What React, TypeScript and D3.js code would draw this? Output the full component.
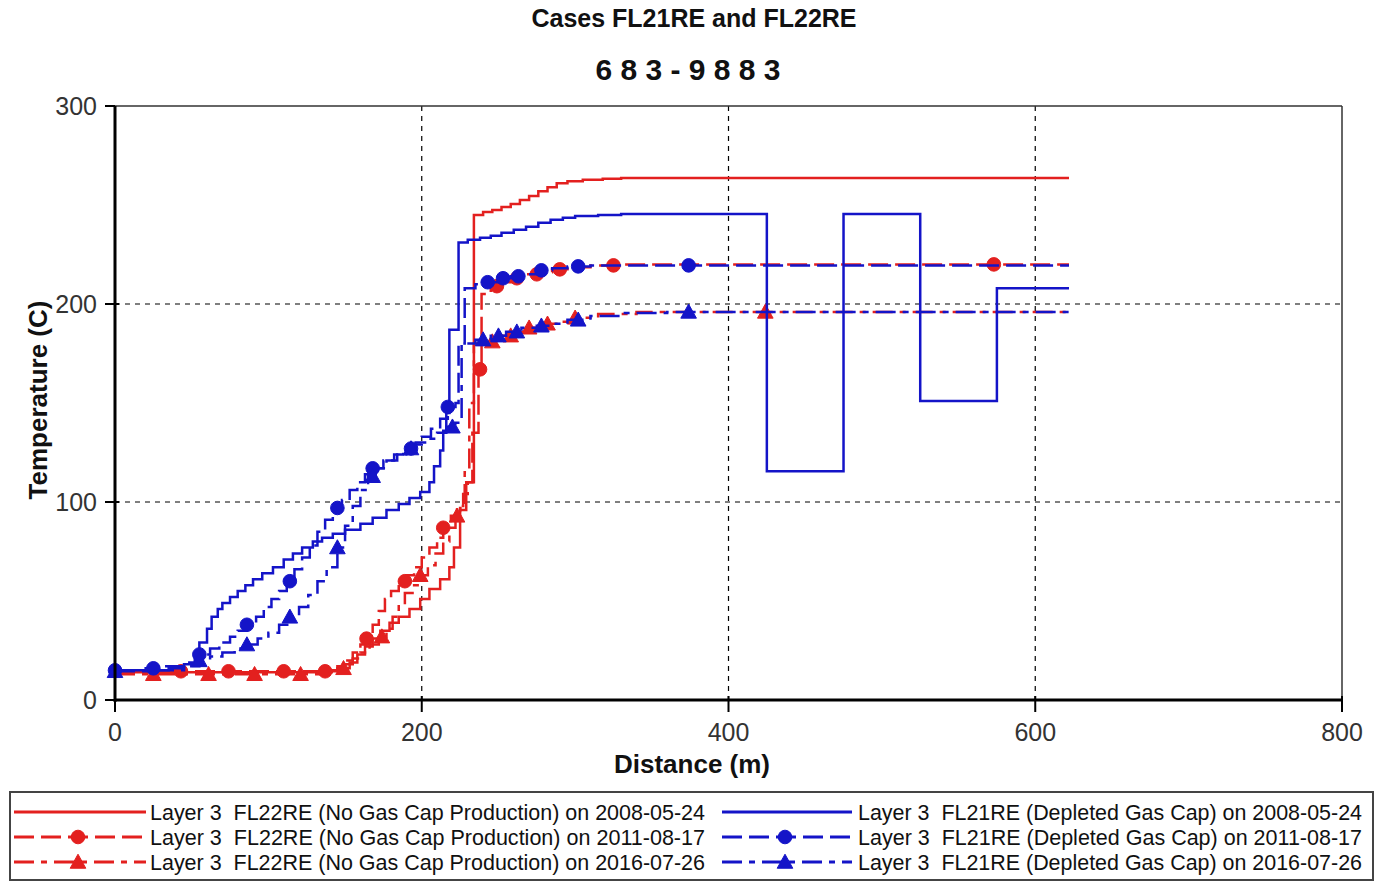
import React from "react";
import * as d3 from "d3";

type Pt = [number, number];

// Axis ticks and grid
const xTicks = [0, 200, 400, 600, 800];
const yTicks = [0, 100, 200, 300];
const xGrid = [200, 400, 600];
const yGrid = [100, 200];

// Temperature profiles along distance (step data: value holds until next distance)
const fl22_2008: Pt[] = [
  [0, 14], [140, 14.5], [148, 16], [153, 19], [158, 23], [163, 27], [168, 31], [173, 35],
  [179, 39], [185, 42], [192, 46], [199, 51], [205, 56], [212, 61], [218, 67], [221, 77],
  [225, 96], [229, 110], [234, 245], [240, 246.5], [246, 247.5], [252, 249], [258, 250.5],
  [264, 252.5], [270, 254.5], [276, 257], [282, 259], [288, 261], [295, 262], [305, 262.8],
  [318, 263.3], [330, 263.6], [622, 263.6],
];
const fl22_2011: Pt[] = [
  [0, 14], [30, 14.5], [140, 15], [145, 17], [150, 20], [155, 24], [160, 28], [164, 31],
  [168, 38], [172, 45], [176, 51], [180, 55], [185, 60], [190, 63], [195, 67], [200, 72],
  [205, 77], [210, 82], [214, 87], [219, 93], [223, 98], [227, 104], [230, 110], [233, 135],
  [237, 167], [239, 205], [245, 209], [252, 211], [260, 213], [268, 215], [276, 216],
  [285, 217.5], [295, 218.5], [310, 219.5], [330, 220], [622, 220],
];
const fl22_2016: Pt[] = [
  [0, 13], [140, 14], [145, 16], [150, 18], [155, 21], [160, 24], [166, 28], [172, 32],
  [177, 36], [181, 42], [185, 48], [189, 54], [194, 58], [199, 63], [204, 68], [209, 74],
  [214, 80], [218, 87], [222, 93], [225, 97], [228, 115], [231, 150], [234, 180], [240, 181],
  [250, 184], [260, 186], [270, 188], [280, 190], [290, 191], [300, 193], [315, 195],
  [340, 196], [622, 196],
];
const fl21_2008: Pt[] = [
  [0, 15], [35, 16], [45, 18], [52, 22], [55, 29], [60, 36], [63, 42], [67, 46], [70, 49],
  [75, 52], [80, 55], [85, 58], [90, 61], [96, 64], [103, 67], [110, 71], [116, 74],
  [122, 77], [129, 80], [135, 82], [142, 84], [150, 86], [160, 89], [168, 92], [177, 96],
  [185, 99], [192, 102], [199, 105], [205, 110], [208, 118], [212, 126], [214, 136],
  [216, 145], [218, 187], [224, 231], [230, 232.5], [238, 233.5], [245, 234.5], [252, 236],
  [260, 237.5], [268, 239], [276, 241], [284, 242.5], [292, 243.5], [300, 244.5],
  [315, 245], [330, 245.5], [425, 115.5], [475, 245.5], [525, 151], [575, 208], [622, 208],
];
const fl21_2011: Pt[] = [
  [0, 15], [20, 16], [30, 17], [45, 19], [55, 23], [62, 26], [68, 29], [75, 32], [80, 35],
  [86, 38], [92, 42], [97, 47], [102, 51], [107, 55], [112, 60], [117, 66], [122, 72],
  [127, 78], [132, 85], [137, 91], [142, 97], [148, 101], [153, 106], [158, 110], [163, 114],
  [168, 117], [175, 121], [182, 124], [188, 127], [194, 129], [200, 133], [206, 137],
  [212, 142], [217, 148], [222, 150], [224, 180], [228, 208], [235, 210], [242, 211],
  [250, 213], [258, 214], [265, 215], [275, 217], [285, 218], [295, 219], [310, 219.5],
  [622, 219.5],
];
const fl21_2016: Pt[] = [
  [0, 14.5], [25, 15], [45, 17], [55, 20], [62, 22], [70, 24], [78, 26], [86, 28], [93, 31],
  [100, 34], [107, 38], [114, 42], [120, 47], [126, 53], [132, 60], [138, 67], [145, 77],
  [150, 88], [155, 98], [160, 106], [165, 113], [170, 117], [177, 121], [184, 124],
  [190, 127], [196, 130], [203, 132], [210, 135], [216, 138], [222, 140], [226, 180],
  [235, 182], [245, 184], [255, 186], [265, 188], [275, 189], [285, 190], [295, 192],
  [310, 194], [330, 195.5], [360, 196], [622, 196],
];

// Distances where symbols are placed on each profile
const fl22_2011Marks = [43, 74, 110, 137, 164, 189, 214, 238, 249, 262, 275, 290, 325, 573];
const fl22_2016Marks = [25, 61, 91, 121, 149, 174, 199, 223, 246, 258, 270, 282, 300, 424];
const fl21_2011Marks = [0, 25, 55, 86, 114, 145, 168, 193, 217, 243, 253, 263, 278, 302, 374];
const fl21_2016Marks = [0, 55, 86, 114, 145, 168, 193, 220, 240, 250, 262, 278, 302, 374];

const legendLabels = [
  "Layer 3  FL22RE (No Gas Cap Production) on 2008-05-24",
  "Layer 3  FL22RE (No Gas Cap Production) on 2011-08-17",
  "Layer 3  FL22RE (No Gas Cap Production) on 2016-07-26",
  "Layer 3  FL21RE (Depleted Gas Cap) on 2008-05-24",
  "Layer 3  FL21RE (Depleted Gas Cap) on 2011-08-17",
  "Layer 3  FL21RE (Depleted Gas Cap) on 2016-07-26",
];

const RED = "#e3201f";
const BLUE = "#1414c8";
const DASH = "20,7";
const DASHDOT = "20,7,6,7";

type Series = {
  data: Pt[];
  color: string;
  dash: string | null;
  marker: "circle" | "triangle" | null;
  marks: number[];
  label: string;
};

const series: Series[] = [
  { data: fl22_2008, color: RED, dash: null, marker: null, marks: [], label: legendLabels[0] },
  { data: fl22_2011, color: RED, dash: DASH, marker: "circle", marks: fl22_2011Marks, label: legendLabels[1] },
  { data: fl22_2016, color: RED, dash: DASHDOT, marker: "triangle", marks: fl22_2016Marks, label: legendLabels[2] },
  { data: fl21_2008, color: BLUE, dash: null, marker: null, marks: [], label: legendLabels[3] },
  { data: fl21_2011, color: BLUE, dash: DASH, marker: "circle", marks: fl21_2011Marks, label: legendLabels[4] },
  { data: fl21_2016, color: BLUE, dash: DASHDOT, marker: "triangle", marks: fl21_2016Marks, label: legendLabels[5] },
];

const W = 1379;
const H = 885;
const FONT = "'Liberation Sans', Arial, sans-serif";

function valueAt(data: Pt[], d: number): number {
  let v = data[0][1];
  for (const [x, t] of data) {
    if (x <= d) v = t;
    else break;
  }
  return v;
}

function Marker({ kind, cx, cy, color }: { kind: string; cx: number; cy: number; color: string }) {
  if (kind === "circle") return <circle cx={cx} cy={cy} r={6.8} fill={color} stroke={color} strokeWidth={1} />;
  const s = 7.8;
  return (
    <path
      d={`M${cx},${cy - s}L${cx + s},${cy + s * 0.8}L${cx - s},${cy + s * 0.8}Z`}
      fill={color}
      stroke={color}
      strokeWidth={1}
    />
  );
}

export default function App() {
  const x = d3.scaleLinear().domain([0, 800]).range([115, 1342]);
  const y = d3.scaleLinear().domain([0, 300]).range([700, 106]);
  const line = d3
    .line<Pt>()
    .x((p) => x(p[0]))
    .y((p) => y(p[1]))
    .curve(d3.curveStepAfter);

  const [x0, x1] = x.range();
  const [y0, y1] = y.range();

  return (
    <svg
      width={W}
      height={H}
      viewBox={`0 0 ${W} ${H}`}
      style={{ position: "absolute", left: 0, top: 0, background: "#fff" }}
      fontFamily={FONT}
    >
      <rect x={0} y={0} width={W} height={H} fill="#fff" />

      {/* titles */}
      <text x={694} y={27} textAnchor="middle" fontSize={25} fontWeight="bold" fill="#111">
        Cases FL21RE and FL22RE
      </text>
      <text x={688} y={80} textAnchor="middle" fontSize={30} fontWeight="bold" fill="#111">
        6 8 3 - 9 8 8 3
      </text>

      {/* grid */}
      {xGrid.map((g) => (
        <line key={"gx" + g} x1={x(g)} x2={x(g)} y1={y1} y2={y0} stroke="#000" strokeWidth={1.2} strokeDasharray="5,5" />
      ))}
      {yGrid.map((g) => (
        <line key={"gy" + g} x1={x0} x2={x1} y1={y(g)} y2={y(g)} stroke="#000" strokeWidth={1.2} strokeDasharray="5,5" />
      ))}

      {/* frame */}
      <line x1={x0} x2={x1} y1={y1} y2={y1} stroke="#333" strokeWidth={1.5} />
      <line x1={x1} x2={x1} y1={y1} y2={y0} stroke="#333" strokeWidth={1.5} />

      {/* series */}
      {series.map((s, i) => (
        <g key={"s" + i}>
          <path
            d={line(s.data) || ""}
            fill="none"
            stroke={s.color}
            strokeWidth={2.5}
            strokeDasharray={s.dash || undefined}
          />
          {s.marker &&
            s.marks.map((m, j) => (
              <Marker key={j} kind={s.marker as string} cx={x(m)} cy={y(valueAt(s.data, m))} color={s.color} />
            ))}
        </g>
      ))}

      {/* axes */}
      <line x1={x0} x2={x0} y1={y1} y2={y0 + 2} stroke="#000" strokeWidth={3} />
      <line x1={x0 - 1} x2={x1} y1={y0} y2={y0} stroke="#000" strokeWidth={3} />
      {yTicks.map((t) => (
        <g key={"yt" + t}>
          <line x1={x0 - 10} x2={t === 300 ? x0 : x0 + 4} y1={y(t)} y2={y(t)} stroke="#000" strokeWidth={2} />
          <text x={97} y={y(t) + 9} textAnchor="end" fontSize={25} fill="#333">
            {t}
          </text>
        </g>
      ))}
      {xTicks.map((t) => (
        <g key={"xt" + t}>
          <line x1={x(t)} x2={x(t)} y1={y0 - 4} y2={y0 + 12} stroke="#000" strokeWidth={2} />
          <text x={x(t)} y={741} textAnchor="middle" fontSize={25} fill="#333">
            {t}
          </text>
        </g>
      ))}

      {/* axis titles */}
      <text x={692} y={773} textAnchor="middle" fontSize={26} fontWeight="bold" fill="#111">
        Distance (m)
      </text>
      <text
        transform={`translate(47,${(y0 + y1) / 2 - 3}) rotate(-90)`}
        textAnchor="middle"
        fontSize={26}
        fontWeight="bold"
        fill="#111"
      >
        Temperature (C)
      </text>

      {/* legend */}
      <rect x={10} y={792} width={1363} height={88} fill="#fff" stroke="#444" strokeWidth={2} />
      {series.map((s, i) => {
        const col = i < 3 ? 0 : 1;
        const row = i % 3;
        const lx0 = col === 0 ? 14 : 722;
        const lx1 = col === 0 ? 146 : 852;
        const ty = 812 + row * 25;
        const tx = col === 0 ? 150 : 858;
        const tw = col === 0 ? 555 : 504;
        return (
          <g key={"lg" + i}>
            <line x1={lx0} x2={lx1} y1={ty} y2={ty} stroke={s.color} strokeWidth={3} strokeDasharray={s.dash || undefined} />
            {s.marker && <Marker kind={s.marker} cx={(lx0 + lx1) / 2 - 2} cy={ty} color={s.color} />}
            <text
              x={tx}
              y={ty + 8}
              fontSize={21.5}
              fill="#111"
              textLength={tw}
              lengthAdjust="spacingAndGlyphs"
              style={{ whiteSpace: "pre" }}
            >
              {s.label}
            </text>
          </g>
        );
      })}
    </svg>
  );
}
